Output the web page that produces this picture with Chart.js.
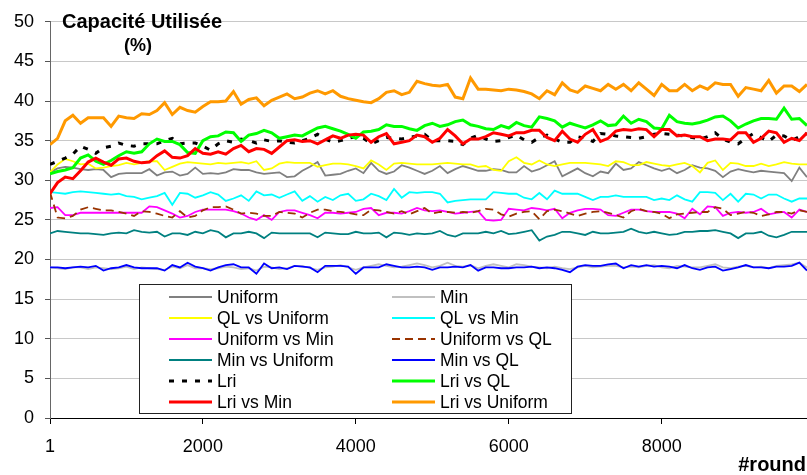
<!DOCTYPE html>
<html>
<head>
<meta charset="utf-8">
<script src="https://cdn.jsdelivr.net/npm/chart.js@4.4.1/dist/chart.umd.min.js"></script>
<style>
  body { margin: 0; background: #fff; }
</style>
</head>
<body>
<canvas id="capacity" width="807" height="475"></canvas>
<script>
// rounds (x) - one sample every 100 rounds
const rounds = [1, 100, 200, 300, 400, 500, 600, 700, 800, 900,
  1000, 1100, 1200, 1300, 1400, 1500, 1600, 1700, 1800, 1900,
  2000, 2100, 2200, 2300, 2400, 2500, 2600, 2700, 2800, 2900,
  3000, 3100, 3200, 3300, 3400, 3500, 3600, 3700, 3800, 3900,
  4000, 4100, 4200, 4300, 4400, 4500, 4600, 4700, 4800, 4900,
  5000, 5100, 5200, 5300, 5400, 5500, 5600, 5700, 5800, 5900,
  6000, 6100, 6200, 6300, 6400, 6500, 6600, 6700, 6800, 6900,
  7000, 7100, 7200, 7300, 7400, 7500, 7600, 7700, 7800, 7900,
  8000, 8100, 8200, 8300, 8400, 8500, 8600, 8700, 8800, 8900,
  9000, 9100, 9200, 9300, 9400, 9500, 9600, 9700, 9800, 9900]
const xTicks = [1, 2000, 4000, 6000, 8000]

const uniform = [31.0, 31.5, 31.7, 31.6, 31.4, 31.3, 31.4, 31.3, 30.4, 30.8,
  30.9, 30.9, 30.9, 31.4, 30.6, 31.0, 31.1, 30.6, 30.8, 31.6,
  30.8, 30.9, 30.8, 31.0, 31.4, 31.3, 31.3, 31.0, 30.8, 30.9,
  31.0, 30.4, 30.5, 31.2, 31.7, 32.3, 30.6, 30.7, 30.8, 31.2,
  31.5, 30.9, 32.2, 31.2, 30.8, 31.1, 31.9, 31.6, 31.2, 30.8,
  31.2, 31.8, 30.9, 31.4, 31.8, 31.5, 31.2, 31.2, 31.4, 31.3,
  31.0, 31.0, 31.8, 31.1, 31.4, 31.9, 32.4, 30.5, 31.0, 31.5,
  30.9, 30.5, 31.1, 30.9, 32.1, 31.3, 31.5, 32.3, 31.9, 31.5,
  31.2, 31.5, 30.9, 31.3, 31.9, 31.6, 31.5, 31.2, 30.4, 31.1,
  31.4, 31.2, 31.0, 31.2, 31.1, 31.0, 30.9, 29.9, 31.6, 30.4]

const minOnly = [19.0, 18.9, 18.8, 19.0, 19.0, 18.8, 19.0, 18.9, 18.8, 18.9,
  19.1, 18.8, 19.0, 18.9, 18.8, 18.7, 19.1, 18.9, 19.3, 18.9,
  18.9, 18.8, 18.9, 19.1, 19.0, 18.8, 18.9, 18.6, 19.1, 19.0,
  18.8, 18.9, 19.2, 19.2, 18.9, 18.7, 19.0, 19.1, 19.3, 19.0,
  18.7, 19.0, 19.2, 19.4, 19.2, 19.0, 19.1, 19.3, 19.5, 19.3,
  19.0, 19.2, 19.6, 19.2, 19.1, 19.3, 18.9, 19.2, 19.4, 19.2,
  19.0, 19.4, 19.3, 19.1, 19.0, 18.9, 19.1, 18.9, 18.8, 19.0,
  19.2, 19.0, 19.1, 19.2, 19.2, 19.0, 19.1, 19.0, 19.2, 19.3,
  19.0, 18.9, 19.2, 19.1, 19.0, 19.0, 19.2, 19.4, 19.0, 18.9,
  19.1, 19.2, 19.0, 19.1, 18.9, 19.2, 19.3, 19.4, 19.6, 19.0]

const qlVsUniform = [31.0, 32.0, 32.7, 32.4, 32.0, 32.1, 31.5, 31.6, 31.8, 31.9,
  32.2, 32.0, 32.2, 32.4, 32.4, 31.3, 31.7, 32.1, 32.3, 32.2,
  32.1, 32.0, 32.2, 32.1, 32.2, 32.3, 32.1, 32.4, 31.3, 31.5,
  32.1, 32.3, 32.2, 32.2, 32.2, 31.7, 31.9, 32.1, 32.1, 32.0,
  31.8, 31.5, 32.5, 32.0, 31.3, 32.1, 32.2, 32.1, 32.0, 32.0,
  32.0, 32.1, 32.2, 32.1, 32.0, 32.0, 31.7, 31.8, 31.3, 31.2,
  32.4, 32.9, 32.2, 32.0, 32.5, 32.0, 31.8, 32.0, 32.2, 32.2,
  32.2, 32.1, 32.0, 31.8, 32.4, 32.3, 31.9, 31.9, 32.3, 32.1,
  31.9, 31.8, 32.0, 32.2, 31.8, 31.0, 32.2, 32.5, 31.3, 32.2,
  32.1, 31.8, 31.8, 32.1, 31.8, 32.0, 32.3, 32.1, 32.0, 32.0]

const qlVsMin = [28.5, 28.4, 28.3, 28.5, 28.6, 28.5, 28.4, 28.3, 28.2, 28.3,
  28.0, 27.9, 27.6, 27.8, 28.0, 28.4, 26.9, 28.4, 28.3, 27.8,
  28.1, 28.5, 28.2, 27.4, 27.7, 28.1, 27.4, 28.6, 28.1, 28.2,
  27.8, 28.2, 28.6, 27.4, 28.0, 27.3, 27.9, 27.5, 28.1, 28.3,
  27.4, 27.6, 28.3, 28.0, 27.5, 28.9, 27.8, 28.5, 28.4, 28.5,
  28.5, 28.3, 27.2, 27.4, 27.5, 27.6, 27.6, 27.6, 28.5, 28.4,
  28.3, 28.3, 27.8, 27.6, 28.4, 27.6, 28.7, 28.3, 28.3, 28.3,
  27.9, 27.5, 27.9, 27.9, 28.1, 27.9, 27.9, 27.9, 27.9, 27.5,
  27.7, 27.5, 28.1, 27.6, 27.3, 28.5, 28.5, 28.4, 27.5, 28.3,
  27.3, 28.3, 28.2, 27.7, 28.2, 28.2, 27.7, 27.3, 27.7, 27.7]

const uniformVsMin = [26.5, 26.6, 25.6, 25.6, 25.9, 25.9, 25.9, 25.9, 25.9, 25.9,
  25.9, 25.9, 25.9, 26.7, 26.6, 26.2, 25.8, 25.3, 25.5, 26.0,
  26.3, 26.3, 26.3, 26.3, 26.1, 25.8, 25.3, 25.0, 25.6, 25.0,
  26.0, 26.2, 26.2, 25.9, 25.6, 25.2, 25.9, 25.9, 25.8, 25.9,
  26.0, 26.4, 26.5, 25.6, 25.9, 25.9, 25.8, 26.1, 26.5, 26.2,
  26.1, 26.2, 26.0, 25.8, 25.9, 26.0, 26.1, 25.0, 24.9, 25.0,
  26.4, 26.3, 26.2, 26.5, 26.4, 26.2, 26.4, 25.2, 25.9, 26.2,
  26.4, 26.4, 26.3, 25.6, 25.5, 25.9, 26.3, 26.3, 26.1, 26.0,
  26.0, 26.0, 25.8, 25.2, 26.4, 25.7, 26.7, 26.6, 25.5, 25.9,
  26.0, 25.9, 26.0, 26.4, 25.7, 25.9, 26.0, 25.3, 26.3, 26.0]

const uniformVsQl = [28.5, 25.3, 25.2, 25.5, 26.3, 26.6, 26.4, 26.2, 26.2, 26.0,
  25.8, 25.5, 26.1, 26.0, 25.8, 25.5, 25.3, 26.1, 25.3, 25.5,
  26.2, 26.6, 26.6, 26.7, 26.3, 25.8, 25.9, 25.8, 25.5, 25.5,
  26.0, 25.9, 25.8, 25.3, 25.9, 26.3, 26.3, 26.1, 26.0, 25.9,
  25.7, 25.6, 26.3, 26.2, 26.0, 25.8, 26.1, 25.7, 26.1, 26.5,
  25.8, 26.0, 26.0, 25.9, 26.0, 25.9, 26.1, 26.4, 26.3, 25.7,
  25.4, 25.8, 26.0, 26.1, 25.1, 26.1, 26.3, 26.1, 25.8, 25.5,
  25.8, 26.0, 26.1, 25.9, 25.6, 25.3, 26.1, 26.4, 26.1, 26.0,
  25.8, 25.2, 25.7, 25.8, 25.9, 26.0, 26.0, 26.6, 26.4, 25.6,
  25.8, 26.0, 25.9, 25.5, 25.7, 26.0, 26.0, 25.8, 26.2, 26.0]

const minVsUniform = [23.3, 23.6, 23.5, 23.4, 23.3, 23.3, 23.2, 23.1, 23.3, 23.4,
  23.3, 23.7, 23.5, 23.4, 23.5, 22.9, 23.3, 23.3, 23.1, 23.5,
  23.3, 23.7, 23.5, 22.8, 23.3, 23.3, 23.5, 23.3, 22.7, 23.4,
  23.3, 23.3, 23.3, 23.3, 23.3, 22.8, 23.4, 23.3, 23.2, 23.2,
  23.5, 23.3, 23.3, 23.4, 22.8, 23.4, 23.3, 23.1, 23.3, 23.2,
  23.3, 23.6, 23.1, 22.9, 23.3, 23.3, 23.3, 23.5, 23.3, 23.6,
  23.2, 23.3, 23.5, 23.7, 22.4, 22.9, 23.1, 23.5, 23.5, 23.3,
  23.1, 23.5, 23.3, 23.3, 23.4, 23.5, 23.9, 23.5, 23.3, 23.5,
  23.3, 23.1, 23.2, 23.5, 23.5, 23.6, 23.6, 23.7, 23.5, 23.3,
  22.7, 23.3, 23.3, 23.5, 23.0, 22.8, 23.1, 23.5, 23.5, 23.5]

const minVsQl = [19.0, 19.0, 18.9, 19.0, 19.1, 19.0, 19.2, 18.6, 18.9, 19.0,
  19.3, 19.0, 18.9, 18.9, 18.9, 18.6, 19.3, 19.0, 19.6, 19.1,
  18.9, 18.6, 19.0, 19.3, 19.4, 19.0, 19.0, 18.2, 19.5, 18.9,
  19.0, 18.8, 19.2, 19.1, 19.0, 18.4, 19.2, 19.2, 19.2, 19.1,
  18.2, 19.0, 19.0, 19.0, 19.4, 19.2, 19.0, 19.0, 19.1, 19.0,
  18.7, 19.0, 19.0, 19.1, 19.0, 19.3, 18.6, 19.0, 19.0, 18.9,
  18.9, 19.0, 19.0, 19.1, 18.9, 19.0, 18.9, 18.7, 18.4, 19.1,
  19.3, 19.2, 19.2, 19.4, 19.5, 18.9, 19.3, 19.1, 19.3, 19.1,
  19.2, 19.1, 18.9, 19.3, 18.9, 18.7, 19.0, 19.1, 18.6, 18.8,
  19.0, 19.3, 19.0, 19.0, 18.9, 19.1, 19.1, 19.2, 19.6, 18.6]

const lri = [32.0, 32.4, 32.8, 33.3, 34.3, 33.9, 33.4, 34.1, 34.3, 34.7,
  34.4, 34.3, 34.6, 34.6, 34.6, 35.0, 35.3, 34.6, 34.7, 34.7,
  34.3, 33.8, 34.6, 35.0, 34.8, 35.2, 35.0, 34.7, 35.1, 34.9,
  35.0, 34.8, 34.7, 35.0, 35.3, 35.8, 35.2, 34.8, 35.0, 35.3,
  35.5, 35.3, 34.6, 35.0, 35.4, 35.3, 35.2, 35.4, 35.6, 35.8,
  35.0, 35.0, 35.0, 34.9, 34.5, 35.3, 35.7, 35.2, 34.9, 35.0,
  35.4, 35.7, 35.1, 34.8, 35.4, 35.7, 35.2, 34.8, 34.8, 35.5,
  35.3, 34.9, 35.9, 35.8, 35.6, 35.5, 35.4, 35.3, 35.5, 35.8,
  35.9, 35.8, 35.7, 35.6, 35.4, 35.2, 35.5, 36.0, 35.2, 34.8,
  34.6, 35.3, 35.9, 35.4, 34.9, 35.7, 35.6, 35.0, 35.5, 35.9]

const lriVsQl = [30.8, 31.1, 31.3, 31.6, 32.8, 33.2, 32.4, 32.0, 32.5, 33.1,
  33.6, 33.4, 33.6, 34.6, 35.2, 34.9, 34.9, 34.5, 33.5, 33.4,
  35.0, 35.5, 35.6, 36.1, 36.0, 34.9, 35.7, 35.9, 36.3, 36.0,
  35.3, 35.5, 35.7, 35.6, 36.1, 36.6, 36.8, 36.5, 36.2, 35.8,
  35.3, 36.1, 36.2, 36.4, 37.0, 36.8, 36.8, 36.5, 36.3, 36.9,
  37.2, 36.8, 37.0, 37.4, 37.6, 37.0, 36.8, 36.5, 36.4, 36.9,
  36.6, 37.3, 36.9, 36.7, 38.0, 37.8, 37.5, 36.7, 37.2, 36.9,
  36.6, 37.0, 37.5, 36.9, 37.0, 38.1, 37.2, 37.7, 37.4, 36.6,
  36.5, 38.2, 37.4, 37.2, 37.1, 37.3, 37.6, 38.0, 38.1, 37.5,
  36.6, 37.1, 37.5, 37.8, 37.8, 37.7, 39.1, 37.7, 37.8, 36.9]

const lriVsMin = [28.3, 29.7, 30.4, 30.2, 31.2, 32.3, 32.8, 32.3, 31.9, 32.7,
  32.8, 32.4, 32.2, 32.3, 33.1, 33.7, 32.9, 32.8, 33.1, 34.0,
  33.4, 33.3, 33.6, 33.3, 34.0, 34.4, 33.6, 34.0, 33.9, 33.4,
  34.2, 35.0, 35.1, 34.9, 35.0, 34.6, 35.1, 35.6, 35.3, 35.7,
  35.8, 35.7, 34.8, 35.5, 35.9, 34.6, 34.8, 35.0, 35.7, 35.5,
  34.8, 35.3, 36.4, 35.6, 34.6, 35.2, 35.2, 35.5, 36.0, 35.8,
  35.6, 36.0, 36.0, 36.3, 36.3, 35.4, 35.0, 36.2, 35.2, 34.8,
  35.8, 36.4, 34.9, 35.3, 36.2, 36.4, 36.3, 36.5, 36.4, 35.5,
  36.4, 36.4, 35.6, 35.7, 35.5, 35.5, 35.0, 35.2, 35.2, 35.1,
  36.0, 36.0, 34.8, 35.3, 36.2, 36.0, 34.8, 35.3, 35.0, 36.0]

const lriVsUniform = [34.5, 35.3, 37.5, 38.2, 37.2, 37.9, 37.9, 37.9, 36.8, 38.1,
  37.9, 37.8, 38.4, 38.3, 38.8, 39.8, 38.3, 39.2, 38.8, 38.6,
  39.3, 39.9, 39.9, 40.0, 41.2, 39.6, 40.2, 40.4, 39.4, 40.1,
  40.5, 40.9, 40.3, 40.5, 41.0, 41.3, 40.9, 41.3, 40.6, 40.3,
  40.1, 39.9, 39.8, 40.3, 41.1, 41.3, 40.8, 41.1, 42.5, 42.2,
  42.0, 41.9, 42.1, 40.5, 40.3, 42.9, 41.5, 41.5, 41.4, 41.3,
  41.5, 41.4, 41.2, 40.9, 40.3, 41.3, 40.8, 42.3, 41.4, 41.1,
  41.9, 41.6, 41.3, 42.1, 41.5, 42.1, 41.3, 42.3, 41.5, 40.7,
  42.1, 41.3, 41.3, 42.1, 41.3, 41.9, 41.5, 42.3, 42.1, 42.1,
  40.6, 41.7, 41.5, 41.3, 42.6, 41.0, 41.9, 41.9, 41.2, 42.1]

// label, values, colour, width, dash
const series = [
  ['Uniform', uniform, '#808080', 1.8, []],
  ['Min', minOnly, '#c0c0c0', 1.8, []],
  ['QL vs Uniform', qlVsUniform, '#ffff00', 1.8, []],
  ['QL vs Min', qlVsMin, '#00ffff', 1.8, []],
  ['Uniform vs Min', uniformVsMin, '#ff00ff', 1.8, []],
  ['Uniform vs QL', uniformVsQl, '#993300', 1.8, [8, 5]],
  ['Min vs Uniform', minVsUniform, '#008080', 1.8, []],
  ['Min vs QL', minVsQl, '#0000ff', 1.8, []],
  ['Lri', lri, '#000000', 3, [5, 8]],
  ['Lri vs QL', lriVsQl, '#00ff00', 3, []],
  ['Lri vs Min', lriVsMin, '#ff0000', 3, []],
  ['Lri vs Uniform', lriVsUniform, '#ff9900', 3, []]
]

const FONT = '"Liberation Sans", Arial, sans-serif'

// titles + boxed legend drawn on top of the plot, like the excel original
const overlay = {
  id: 'overlay',
  afterDraw(chart) {
    const c = chart.ctx
    c.save()
    c.fillStyle = '#000'
    c.textBaseline = 'middle'
    c.font = 'bold 20px ' + FONT
    c.textAlign = 'left'
    c.fillText('Capacité Utilisée', 62, 22)
    c.font = 'bold 18px ' + FONT
    c.textAlign = 'center'
    c.fillText('(%)', 138, 46)
    c.font = 'bold 20px ' + FONT
    c.textAlign = 'right'
    c.fillText('#round', 806, 465)

    // legend box
    c.fillStyle = '#fff'
    c.fillRect(139.5, 284.5, 432, 129)
    c.strokeStyle = '#222'
    c.lineWidth = 1
    c.strokeRect(139.5, 284.5, 432, 129)

    c.font = '17.5px ' + FONT
    c.textAlign = 'left'
    chart.data.datasets.forEach((ds, i) => {
      const col = i % 2
      const row = Math.floor(i / 2)
      const y = 297 + row * 21
      const x0 = col === 0 ? 169 : 392
      c.beginPath()
      c.strokeStyle = ds.borderColor
      c.lineWidth = ds.borderWidth
      c.setLineDash(ds.borderDash)
      c.moveTo(x0, y)
      c.lineTo(x0 + 43, y)
      c.stroke()
      c.setLineDash([])
      c.fillStyle = '#000'
      c.fillText(ds.label, x0 + 48, y + 1)
    })
    c.restore()
  }
}

const ctx = document.getElementById('capacity')

new Chart(ctx, {
  type: 'line',
  data: {
    labels: rounds,
    datasets: series.map((s, i) => ({
      label: s[0],
      data: s[1],
      borderColor: s[2],
      borderWidth: s[3],
      borderDash: s[4],
      pointRadius: 0,
      tension: 0,
      fill: false,
      order: series.length - i // later series on top
    }))
  },
  options: {
    responsive: false,
    animation: false,
    layout: { padding: { top: 15, left: 0, right: 0, bottom: 0 } },
    plugins: {
      legend: { display: false },
      tooltip: { enabled: false }
    },
    scales: {
      x: {
        type: 'linear',
        min: 1,
        max: 9900,
        afterBuildTicks: (scale) => {
          scale.ticks = xTicks.map((v) => ({ value: v }))
        },
        afterFit: (scale) => {
          scale.height = 57
        },
        ticks: {
          color: '#000',
          font: { family: FONT, size: 18 },
          padding: 12,
          maxRotation: 0,
          callback: (v) => String(v)
        },
        grid: {
          drawOnChartArea: false,
          color: '#000',
          tickLength: 6
        },
        border: { color: '#000', width: 1 }
      },
      y: {
        min: 0,
        max: 50,
        afterFit: (scale) => {
          scale.width = 50
        },
        ticks: {
          stepSize: 5,
          color: '#000',
          font: { family: FONT, size: 18 },
          padding: 11
        },
        grid: {
          color: '#c8c8c8',
          tickColor: '#555',
          tickLength: 5
        },
        border: { color: '#666', width: 1 }
      }
    }
  },
  plugins: [overlay]
})
</script>
</body>
</html>
